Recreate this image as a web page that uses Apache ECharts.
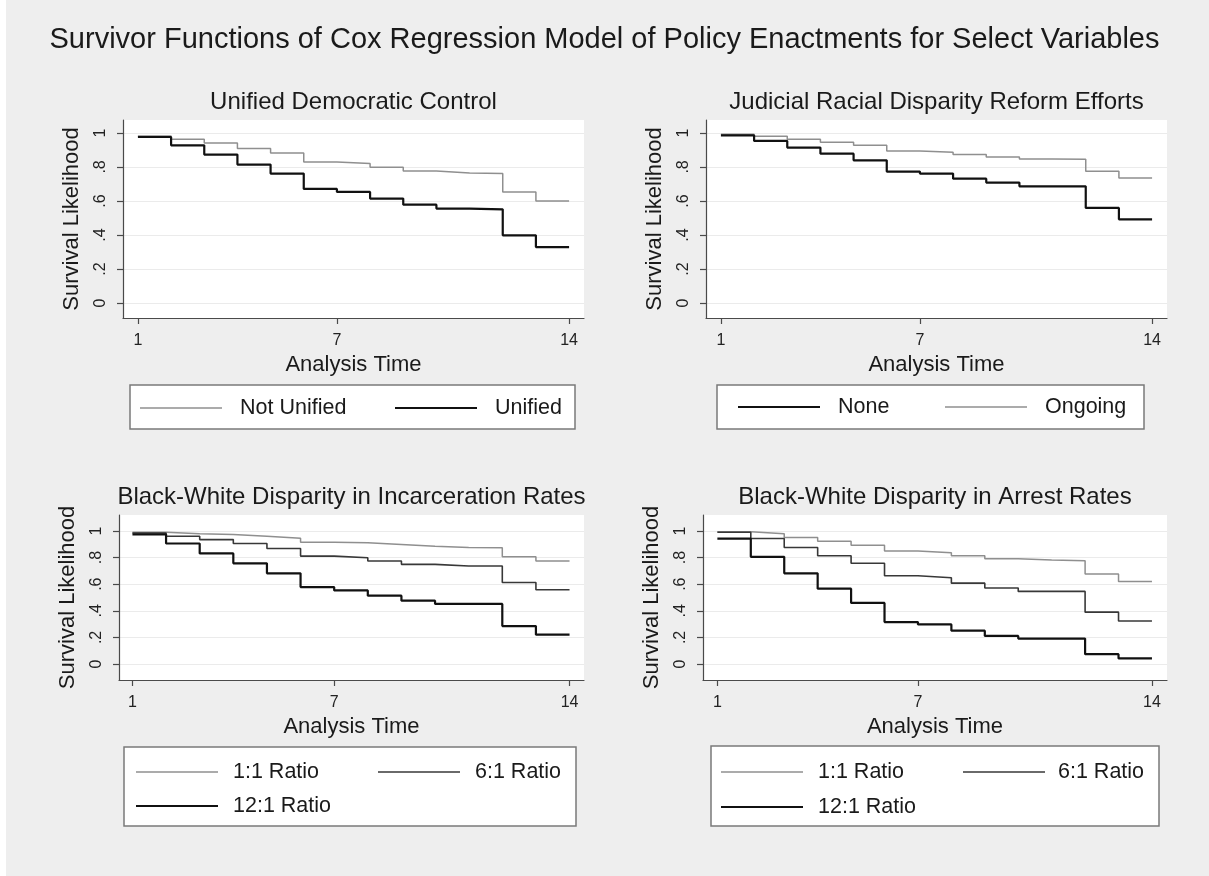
<!DOCTYPE html>
<html>
<head>
<meta charset="utf-8">
<script src="https://cdn.jsdelivr.net/npm/echarts@6/dist/echarts.min.js"></script>
<style>
  html, body { margin: 0; padding: 0; background: #eeeeee; }
  #chart { width: 1209px; height: 876px; }
</style>
</head>
<body>
<div id="chart"></div>
<script>
// ---- Text ----
const mainTitle = 'Survivor Functions of Cox Regression Model of Policy Enactments for Select Variables';
const panelTitles = [
  'Unified Democratic Control',
  'Judicial Racial Disparity Reform Efforts',
  'Black-White Disparity in Incarceration Rates',
  'Black-White Disparity in Arrest Rates'
];
const yAxisTitle = 'Survival Likelihood';
const xAxisTitle = 'Analysis Time';

// ---- Axes ----
const analysisTime = [1, 2, 3, 4, 5, 6, 7, 8, 9, 10, 11, 12, 13, 14];
const xTickValues = [1, 7, 14];
const yTickValues = [0, 0.2, 0.4, 0.6, 0.8, 1];
const yTickLabels = ['0', '.2', '.4', '.6', '.8', '1'];

// ---- Survivor functions (level held from each time until the next) ----
// Unified Democratic Control
const notUnifiedNames = ['Not Unified', 'Unified'];
const notUnified = [0.982, 0.963, 0.941, 0.908, 0.882, 0.829, 0.820, 0.798, 0.776, 0.765, 0.761, 0.653, 0.600, 0.600];
const unified    = [0.976, 0.927, 0.873, 0.814, 0.761, 0.671, 0.653, 0.614, 0.578, 0.555, 0.551, 0.398, 0.329, 0.329];

// Judicial Racial Disparity Reform Efforts
const reformNames = ['None', 'Ongoing'];
const reformNone    = [0.986, 0.953, 0.914, 0.878, 0.839, 0.773, 0.761, 0.731, 0.708, 0.686, 0.686, 0.559, 0.492, 0.492];
const reformOngoing = [0.992, 0.980, 0.963, 0.945, 0.927, 0.894, 0.886, 0.873, 0.859, 0.847, 0.845, 0.775, 0.735, 0.735];

// Black-White Disparity in Incarceration Rates
const ratioNames = ['1:1 Ratio', '6:1 Ratio', '12:1 Ratio'];
const incarc1to1  = [0.990, 0.980, 0.973, 0.960, 0.945, 0.916, 0.911, 0.898, 0.886, 0.876, 0.873, 0.806, 0.774, 0.774];
const incarc6to1  = [0.985, 0.960, 0.935, 0.906, 0.868, 0.811, 0.799, 0.774, 0.749, 0.737, 0.737, 0.613, 0.558, 0.558];
const incarc12to1 = [0.975, 0.906, 0.831, 0.757, 0.682, 0.578, 0.553, 0.514, 0.476, 0.452, 0.452, 0.285, 0.221, 0.221];

// Black-White Disparity in Arrest Rates
const arrest1to1  = [0.995, 0.980, 0.950, 0.923, 0.893, 0.849, 0.836, 0.814, 0.792, 0.782, 0.777, 0.677, 0.620, 0.620];
const arrest6to1  = [0.990, 0.943, 0.876, 0.814, 0.757, 0.663, 0.648, 0.608, 0.571, 0.546, 0.546, 0.390, 0.323, 0.323];
const arrest12to1 = [0.943, 0.806, 0.682, 0.566, 0.459, 0.315, 0.298, 0.251, 0.211, 0.191, 0.191, 0.074, 0.042, 0.042];

// ---- Styles ----
const FONT = 'Liberation Sans, Arial, Helvetica, sans-serif';
const LINE_STYLES = {
  light: { color: '#8f8f8f', width: 1.5 },
  dark:  { color: '#383838', width: 1.6 },
  black: { color: '#111111', width: 2.2 }
};

// Panel layout: plot rectangle, value ranges, and legend placement
const panels = [
  {
    grid: { left: 123, top: 120, width: 461, height: 198 },
    yRange: [-0.088, 1.076], xRange: [0.55, 14.45],
    titleY: 90,
    series: [
      { name: notUnifiedNames[0], values: notUnified, style: 'light' },
      { name: notUnifiedNames[1], values: unified, style: 'black' }
    ],
    legend: {
      box: [130, 385, 445, 44],
      items: [
        { key: [140, 408], label: 240 },
        { key: [395, 408], label: 495 }
      ]
    }
  },
  {
    grid: { left: 706, top: 120, width: 461, height: 198 },
    yRange: [-0.088, 1.076], xRange: [0.55, 14.45],
    titleY: 90,
    series: [
      { name: reformNames[0], values: reformNone, style: 'black' },
      { name: reformNames[1], values: reformOngoing, style: 'light' }
    ],
    legend: {
      box: [717, 385, 427, 44],
      items: [
        { key: [738, 407], label: 838 },
        { key: [945, 407], label: 1045 }
      ]
    }
  },
  {
    grid: { left: 119, top: 515, width: 465, height: 165 },
    yRange: [-0.12, 1.12], xRange: [0.6, 14.43],
    titleY: 485,
    series: [
      { name: ratioNames[0], values: incarc1to1, style: 'light' },
      { name: ratioNames[1], values: incarc6to1, style: 'dark' },
      { name: ratioNames[2], values: incarc12to1, style: 'black' }
    ],
    legend: {
      box: [124, 747, 452, 79],
      items: [
        { key: [136, 772], label: 233 },
        { key: [378, 772], label: 475 },
        { key: [136, 806], label: 233 }
      ]
    }
  },
  {
    grid: { left: 703, top: 515, width: 464, height: 165 },
    yRange: [-0.12, 1.12], xRange: [0.57, 14.45],
    titleY: 485,
    series: [
      { name: ratioNames[0], values: arrest1to1, style: 'light' },
      { name: ratioNames[1], values: arrest6to1, style: 'dark' },
      { name: ratioNames[2], values: arrest12to1, style: 'black' }
    ],
    legend: {
      box: [711, 746, 448, 80],
      items: [
        { key: [721, 772], label: 818 },
        { key: [963, 772], label: 1058 },
        { key: [721, 807], label: 818 }
      ]
    }
  }
];

const option = {
  animation: false,
  backgroundColor: '#eeeeee',
  title: [],
  grid: [],
  xAxis: [],
  yAxis: [],
  series: [],
  graphic: []
};

// Thin white edge along the left border
option.graphic.push({
  type: 'rect', left: 0, top: 0, silent: true,
  shape: { width: 6, height: 876 }, style: { fill: '#ffffff' }
});

option.title.push({
  text: mainTitle, left: 'center', top: 25, padding: 0,
  textStyle: { fontFamily: FONT, fontSize: 29, fontWeight: 'normal', color: '#1a1a1a' }
});

panels.forEach((p, i) => {
  const g = p.grid;
  option.grid.push({
    left: g.left, top: g.top, width: g.width, height: g.height,
    show: true, backgroundColor: '#ffffff', borderWidth: 0, containLabel: false
  });

  option.title.push({
    text: panelTitles[i], left: g.left + g.width / 2, top: p.titleY, padding: 0,
    textAlign: 'center',
    textStyle: { fontFamily: FONT, fontSize: 24, fontWeight: 'normal', color: '#1a1a1a' }
  });

  option.xAxis.push({
    type: 'value', gridIndex: i, min: p.xRange[0], max: p.xRange[1],
    name: xAxisTitle, nameLocation: 'middle', nameGap: 36,
    nameTextStyle: { fontFamily: FONT, fontSize: 22, color: '#1a1a1a' },
    axisLine: { show: true, onZero: false, lineStyle: { color: '#4a4a4a', width: 1.2 } },
    axisTick: { show: true, length: 6, customValues: xTickValues, lineStyle: { color: '#4a4a4a', width: 1.2 } },
    axisLabel: { customValues: xTickValues, margin: 15, fontFamily: FONT, fontSize: 16, color: '#222' },
    splitLine: { show: false }
  });

  option.yAxis.push({
    type: 'value', gridIndex: i, min: p.yRange[0], max: p.yRange[1],
    name: yAxisTitle, nameLocation: 'middle', nameGap: 40, nameRotate: 90,
    nameTextStyle: { fontFamily: FONT, fontSize: 22, color: '#1a1a1a' },
    axisLine: { show: true, onZero: false, lineStyle: { color: '#4a4a4a', width: 1.2 } },
    axisTick: { show: true, length: 6, customValues: yTickValues, lineStyle: { color: '#4a4a4a', width: 1.2 } },
    axisLabel: {
      customValues: yTickValues, rotate: 90, margin: 14,
      fontFamily: FONT, fontSize: 16, color: '#222',
      formatter: v => yTickLabels[yTickValues.findIndex(t => Math.abs(t - v) < 1e-6)] ?? ''
    },
    splitLine: { show: true, lineStyle: { color: '#ebebeb', width: 1 } }
  });

  p.series.forEach((s) => {
    const st = LINE_STYLES[s.style];
    option.series.push({
      type: 'line', name: s.name, xAxisIndex: i, yAxisIndex: i,
      step: 'end', symbol: 'none', z: 3 + (s.style === 'black' ? 2 : s.style === 'dark' ? 1 : 0),
      lineStyle: { color: st.color, width: st.width },
      data: analysisTime.map((t, j) => [t, s.values[j]])
    });
  });

  // Legend: bordered box with a line key and label for each series
  const lg = p.legend;
  option.graphic.push({
    type: 'rect', silent: true, z: 10,
    shape: { x: lg.box[0], y: lg.box[1], width: lg.box[2], height: lg.box[3] },
    style: { fill: '#ffffff', stroke: '#7a7a7a', lineWidth: 1.5 }
  });
  p.series.forEach((s, k) => {
    const it = lg.items[k];
    const st = LINE_STYLES[s.style];
    option.graphic.push({
      type: 'line', silent: true, z: 11,
      shape: { x1: it.key[0], y1: it.key[1], x2: it.key[0] + 82, y2: it.key[1] },
      style: { stroke: st.color, lineWidth: st.width }
    });
    option.graphic.push({
      type: 'text', silent: true, z: 11, x: it.label, y: it.key[1],
      style: {
        text: s.name, fill: '#1a1a1a', font: '21.5px ' + FONT,
        textAlign: 'left', textVerticalAlign: 'middle'
      }
    });
  });
});

const chart = echarts.init(document.getElementById('chart'), null, { renderer: 'canvas' });
chart.setOption(option);
</script>
</body>
</html>
